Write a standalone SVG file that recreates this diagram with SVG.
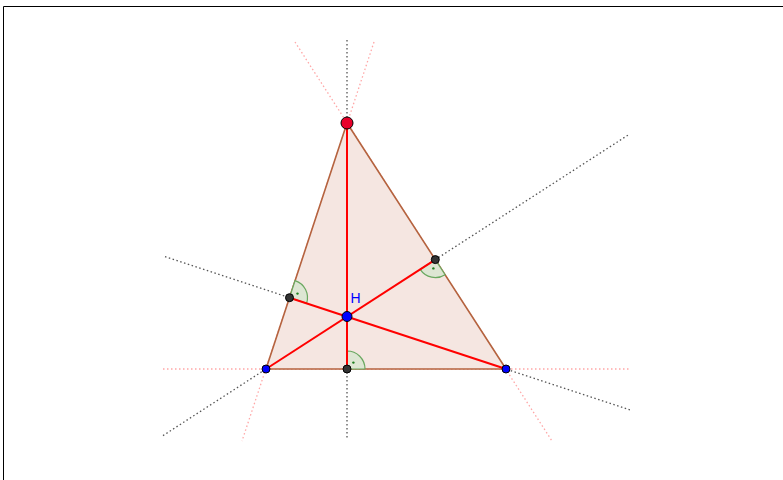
<svg xmlns="http://www.w3.org/2000/svg" width="783" height="480" viewBox="0 0 783 480">
<style>
.frame{fill:none;stroke:#000;stroke-width:1}
.ext{stroke:#ff8080;stroke-width:1.3;stroke-dasharray:1.5 2.5;fill:none;opacity:0.7}
.alt{stroke:#555;stroke-width:1.3;stroke-dasharray:1.5 2.5;fill:none}
.tri{fill:#f5e6e1;stroke:#b5633f;stroke-width:1.6;stroke-linejoin:round}
.seg{stroke:#ff0000;stroke-width:2;fill:none}
.ra{fill:#dde6d3;stroke:#6aa860;stroke-width:1.2}
.rad{fill:#1f7f1f}
.pv{stroke:#000;stroke-width:1}
.lbl{font-family:"Liberation Sans",Arial,sans-serif;font-size:14px;fill:#0000ff}
</style>
<line class="frame" x1="3.5" y1="6.5" x2="783" y2="6.5"/>
<line class="frame" x1="3.5" y1="6.5" x2="3.5" y2="480"/>
<g id="connectors">
<line class="ext" x1="374" y1="42" x2="242" y2="441"/>
<line class="ext" x1="295" y1="42" x2="552" y2="441"/>
<line class="ext" x1="163" y1="369" x2="630" y2="369"/>
<line class="alt" x1="347" y1="40" x2="347" y2="440"/>
<line class="alt" x1="165" y1="256.7" x2="631" y2="410.2"/>
<line class="alt" x1="163" y1="435.6" x2="630" y2="133.8"/>
</g>
<g id="triangle">
<polygon class="tri" points="347,123 266,369 506,369"/>
</g>
<g id="right-angles">
<path class="ra" d="M347,369 L347,351 A18,18 0 0 1 365,369 Z"/>
<circle class="rad" cx="353.4" cy="362.6" r="1.2"/>
<path class="ra" d="M289.5,297.7 L295.1,280.6 A18,18 0 0 1 306.6,303.3 Z"/>
<circle class="rad" cx="297.5" cy="293.6" r="1.2"/>
<path class="ra" d="M435.3,259.6 L420.2,269.4 A18,18 0 0 0 445.1,274.7 Z"/>
<circle class="rad" cx="433.4" cy="268.4" r="1.2"/>
</g>
<g id="altitudes">
<line class="seg" x1="347" y1="123" x2="347" y2="369"/>
<line class="seg" x1="266" y1="369" x2="435.3" y2="259.6"/>
<line class="seg" x1="506" y1="369" x2="289.5" y2="297.7"/>
</g>
<g id="foot-BC"><circle class="pv" cx="347" cy="369" r="4" fill="#333"/></g>
<g id="foot-AB"><circle class="pv" cx="289.5" cy="297.7" r="4" fill="#333"/></g>
<g id="foot-AC"><circle class="pv" cx="435.3" cy="259.6" r="4" fill="#333"/></g>
<g id="A"><circle class="pv" cx="347" cy="123" r="6" fill="#e8002a"/></g>
<g id="B"><circle class="pv" cx="266" cy="369" r="4" fill="#0000ff"/></g>
<g id="C"><circle class="pv" cx="506" cy="369" r="4" fill="#0000ff"/></g>
<g id="H"><circle class="pv" cx="347" cy="316.5" r="5" fill="#0000ff"/><text class="lbl" x="350.5" y="303">H</text></g>
</svg>
